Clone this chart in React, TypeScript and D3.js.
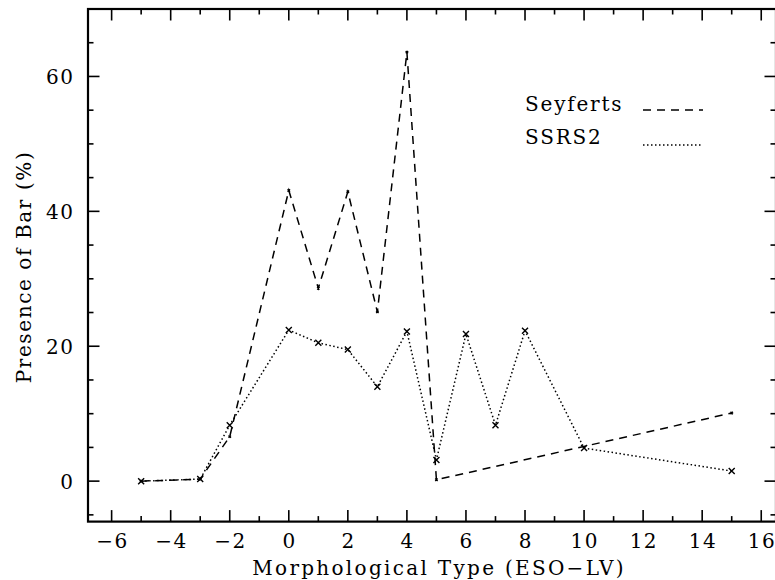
import React from "react";
import * as d3 from "d3";

const seyX = [-5, -3, -2, 0, 1, 2, 3, 4, 5, 15];
const seyY = [0, 0.3, 6.6, 43.1, 28.6, 42.9, 25.1, 63.6, 0.2, 10.1];
const ssrsX = [-5, -3, -2, 0, 1, 2, 3, 4, 5, 6, 7, 8, 10, 15];
const ssrsY = [0, 0.3, 8.3, 22.4, 20.5, 19.5, 14, 22.2, 3.15, 21.8, 8.3, 22.3, 4.9, 1.5];
const xMajor = [-6, -4, -2, 0, 2, 4, 6, 8, 10, 12, 14, 16];
const yMajor = [0, 20, 40, 60];

const W = 775, H = 580;
const L = 88, R = 776, T = 9, B = 521.6;
const FONT = "DejaVu Serif";

export default function App() {
  const x = d3.scaleLinear().domain([-6.8, 16.5]).range([L, R]);
  const y = d3.scaleLinear().domain([-6, 70]).range([B, T]);
  const xMinor = d3.range(-6, 17, 1);
  const yMinor = d3.range(-5, 70, 5);
  const line = d3.line<[number, number]>().x(d => x(d[0])).y(d => y(d[1]));
  const sey = seyX.map((v, i) => [v, seyY[i]] as [number, number]);
  const ssrs = ssrsX.map((v, i) => [v, ssrsY[i]] as [number, number]);
  const cross = (px: number, py: number, s: number, k: string) => (
    <path key={k} d={`M${px - s},${py - s}L${px + s},${py + s}M${px - s},${py + s}L${px + s},${py - s}`} stroke="#000" strokeWidth={1.4} />
  );
  return (
    <svg width={W} height={H} style={{ position: "absolute", left: 0, top: 0 }} fontFamily={FONT}>
      <rect width={W} height={H} fill="#fff" />
      {xMinor.map(v => {
        const major = xMajor.includes(v);
        const len = major ? 11.5 : 5.5;
        return (
          <g key={"xt" + v}>
            <line x1={x(v)} x2={x(v)} y1={B} y2={B - len} stroke="#000" strokeWidth={1.6} />
            <line x1={x(v)} x2={x(v)} y1={T} y2={T + len} stroke="#000" strokeWidth={1.6} />
          </g>
        );
      })}
      {yMinor.map(v => {
        const major = yMajor.includes(v);
        const len = major ? 11.5 : 5.5;
        return (
          <g key={"yt" + v}>
            <line x1={L} x2={L + len} y1={y(v)} y2={y(v)} stroke="#000" strokeWidth={1.6} />
            <line x1={R} x2={R - len} y1={y(v)} y2={y(v)} stroke="#000" strokeWidth={1.6} />
          </g>
        );
      })}
      <rect x={L} y={T} width={R - L} height={B - T} fill="none" stroke="#000" strokeWidth={2.2} />
      {xMajor.map(v => (
        <text key={"xl" + v} x={x(v) + 0.75} y={548} textAnchor="middle" fontSize={20} letterSpacing={1.5}>{v < 0 ? "\u2212" + Math.abs(v) : v}</text>
      ))}
      {yMajor.map(v => (
        <text key={"yl" + v} x={74.5} y={y(v) + 7.5} textAnchor="end" fontSize={20} letterSpacing={1.5}>{v}</text>
      ))}
      <text x={439} y={575} textAnchor="middle" fontSize={20} letterSpacing={2.3}>Morphological Type (ESO−LV)</text>
      <text transform={`translate(31,${267}) rotate(-90)`} textAnchor="middle" fontSize={20} letterSpacing={1.6}>Presence of Bar (%)</text>
      <path d={line(sey) || ""} fill="none" stroke="#000" strokeWidth={1.5} strokeDasharray="8,6" />
      <path d={line(ssrs) || ""} fill="none" stroke="#000" strokeWidth={1.5} strokeDasharray="1.5,2.5" />
      {sey.map((d, i) => cross(x(d[0]), y(d[1]), 1.2, "sm" + i))}
      {ssrs.map((d, i) => cross(x(d[0]), y(d[1]), 3, "cm" + i))}
      <text x={525} y={111} fontSize={20} letterSpacing={1.8}>Seyferts</text>
      <line x1={643} x2={703} y1={110} y2={110} stroke="#000" strokeWidth={1.5} strokeDasharray="8,6" />
      <text x={525} y={144} fontSize={20} letterSpacing={1.8}>SSRS2</text>
      <line x1={643} x2={701} y1={145} y2={145} stroke="#000" strokeWidth={1.5} strokeDasharray="1.5,2.5" />
    </svg>
  );
}
